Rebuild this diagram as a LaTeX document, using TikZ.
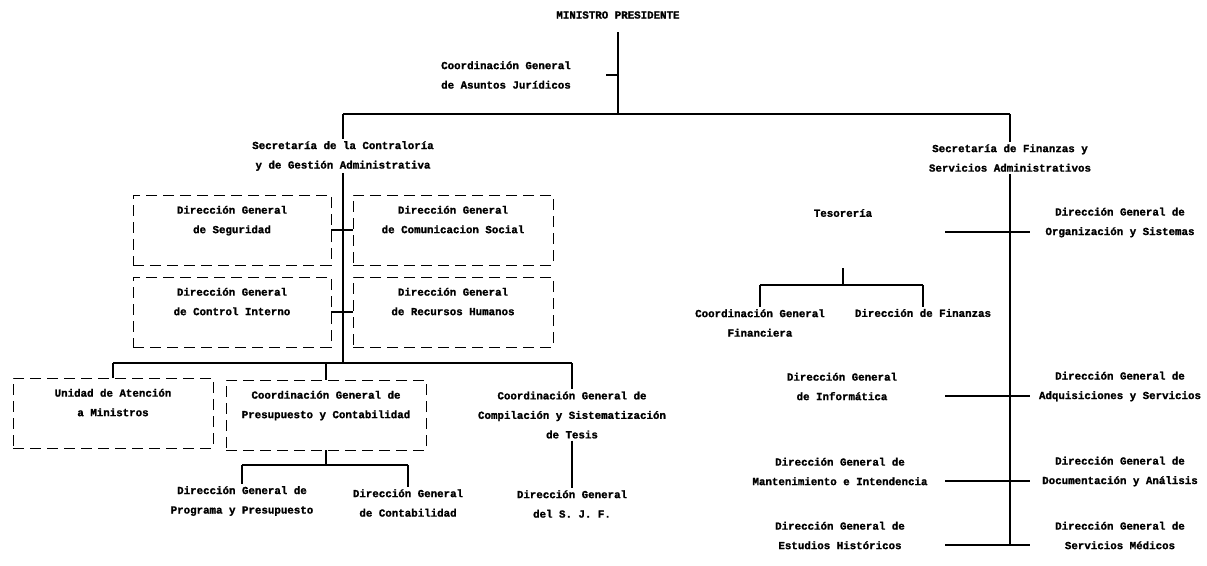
\documentclass[tikz,border=0pt]{standalone}
\usepackage{fontspec}
\setmainfont{Liberation Mono}[BoldFeatures={FakeBold=1.4}]
\begin{document}
\begin{tikzpicture}[x=1pt, y=-1pt,
  txt/.style = {font=\bfseries\fontsize{10.8}{19.5}\selectfont, align=center, inner sep=2pt},
  dbox/.style = {txt, draw, line width=0.8pt, dash pattern=on 11pt off 6pt,
                 minimum width=198pt, minimum height=70pt, text depth=21pt},
  conn/.style = {line width=1.2pt}]
\useasboundingbox (0,0) rectangle (1207,565);

% top
\node[txt] (pres) at (618,15) {MINISTRO PRESIDENTE};
\node[txt] (jur) at (506,75) {Coordinación General\\de Asuntos Jurídicos};
\node[txt] (contra) at (343,156) {Secretaría de la Contraloría\\y de Gestión Administrativa};
\node[txt] (fin) at (1010,158) {Secretaría de Finanzas y\\Servicios Administrativos};

% contraloria
\node[dbox] (seg) at (232,230) {Dirección General\\de Seguridad};
\node[dbox, minimum width=200pt] (com) at (453,230) {Dirección General\\de Comunicacion Social};
\node[dbox] (ctl) at (232,312) {Dirección General\\de Control Interno};
\node[dbox, minimum width=200pt] (rh) at (453,312) {Dirección General\\de Recursos Humanos};
\node[dbox, minimum width=200pt] (uni) at (113,413) {Unidad de Atención\\a Ministros};
\node[dbox, minimum width=200pt] (pre) at (326,415) {Coordinación General de\\Presupuesto y Contabilidad};
\node[txt] (comp) at (572,415) {Coordinación General de\\Compilación y Sistematización\\de Tesis};
\node[txt] (prog) at (242,501) {Dirección General de\\Programa y Presupuesto};
\node[txt] (cont) at (408,503) {Dirección General\\de Contabilidad};
\node[txt] (sjf) at (572,504) {Dirección General\\del S. J. F.};

% finanzas
\node[txt] (tes) at (843,213) {Tesorería};
\node[txt] (org) at (1120,222.5) {Dirección General de\\Organización y Sistemas};
\node[txt] (cgf) at (760,323) {Coordinación General\\Financiera};
\node[txt] (dfin) at (923,313) {Dirección de Finanzas};
\node[txt] (inf) at (842,386.5) {Dirección General\\de Informática};
\node[txt] (adq) at (1120,386.5) {Dirección General de\\Adquisiciones y Servicios};
\node[txt] (mant) at (840,471.5) {Dirección General de\\Mantenimiento e Intendencia};
\node[txt] (doc) at (1120,471.5) {Dirección General de\\Documentación y Análisis};
\node[txt] (est) at (840,535.5) {Dirección General de\\Estudios Históricos};
\node[txt] (med) at (1120,535.5) {Dirección General de\\Servicios Médicos};

% lines
\coordinate (presT) at (618,32);
\coordinate (barL) at (343,114);
\coordinate (barR) at (1010,114);
\coordinate (jurT) at (606,75);
\draw[conn] (presT) -- (presT |- barL);
\draw[conn] (barL) -- (barR);
\draw[conn] (barL) -- (contra.north);
\draw[conn] (barR) -- (fin.north);
\draw[conn] (jurT) -- (jurT -| presT);

\coordinate (midL) at (113,363);
\coordinate (midR) at (572,363);
\draw[conn] (contra.south) -- (contra.south |- midL);
\draw[conn] (seg.east) -- (com.west);
\draw[conn] (ctl.east) -- (rh.west);
\draw[conn] (midL) -- (midR);
\draw[conn] (midL) -- (uni.north);
\draw[conn] (pre.north |- midL) -- (pre.north);
\draw[conn] (midR) -- (comp.north);

\coordinate (lowL) at (242,465);
\coordinate (lowR) at (408,465);
\draw[conn] (pre.south) -- (pre.south |- lowL);
\draw[conn] (lowL) -- (lowR);
\draw[conn] (lowL) -- (prog.north);
\draw[conn] (lowR) -- (cont.north);
\draw[conn] (comp.south) -- (sjf.north);

\coordinate (trkEnd) at (1010,545);
\coordinate (tesT) at (843,268);
\coordinate (finL) at (760,285);
\coordinate (finR) at (923,285);
\draw[conn] (fin.south) -- (trkEnd);
\draw[conn] (tesT) -- (tesT |- finL);
\draw[conn] (finL) -- (finR);
\draw[conn] (finL) -- (cgf.north);
\draw[conn] (finR) -- (dfin.north);
\foreach \n/\r in {A/232, C/396, D/481, E/545} {
  \coordinate (l\n) at (945,\r);
  \coordinate (r\n) at (1030,\r);
  \draw[conn] (l\n) -- (r\n);
}
\end{tikzpicture}
\end{document}
